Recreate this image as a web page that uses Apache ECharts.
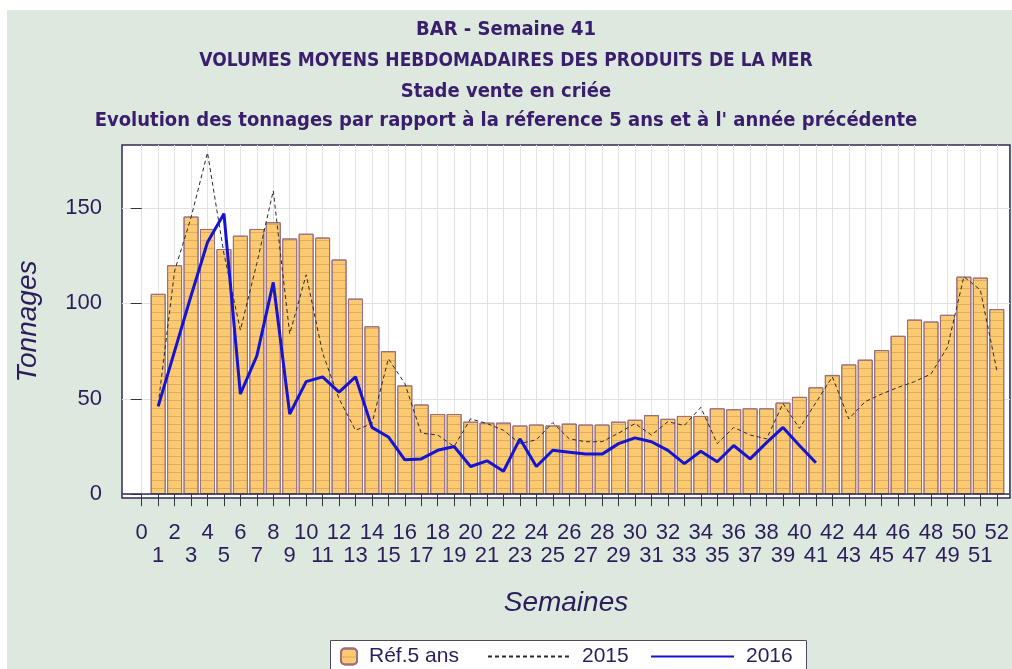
<!DOCTYPE html>
<html lang="fr">
<head>
    <meta charset="UTF-8">
    <title>BAR - Semaine 41</title>
    <script src="https://cdn.jsdelivr.net/npm/echarts@6.0.0/dist/echarts.min.js"></script>
    <style>
        body {
            margin: 0;
            background: #ffffff;
        }
        .backdrop {
            position: absolute;
            left: 7px;
            top: 10px;
            right: 0;
            bottom: 0;
            background-color: #dde9de;
        }
        #chart {
            position: absolute;
            left: 0;
            top: 0;
            width: 1012px;
            height: 669px;
        }
    </style>
</head>
<body>
    <div class="backdrop"></div>
    <div id="chart"></div>
    <script type="text/javascript">
        const weeks = [
            1, 2, 3, 4, 5, 6, 7, 8, 9, 10, 11, 12, 13, 14, 15, 16, 17, 18, 19, 20, 21, 22, 23, 24, 25, 26,
            27, 28, 29, 30, 31, 32, 33, 34, 35, 36, 37, 38, 39, 40, 41, 42, 43, 44, 45, 46, 47, 48, 49, 50, 51, 52
        ];
        const ref5 = [
            105, 120, 145.5, 139, 128.5, 135.5, 139, 142.5, 134, 136.5, 134.5, 123, 102.5, 88, 75, 57, 47, 42, 42, 38,
            37.5, 37.5, 36, 36.5, 36, 37, 36.5, 36.5, 38, 39, 41.5, 39.5, 41, 41, 45, 44.5, 45, 45, 48, 51,
            56, 62.5, 68, 70.5, 75.5, 83, 91.5, 90.5, 94, 114, 113.5, 97
        ];
        const y2015 = [
            47, 117, 145, 179, 126, 86, 121, 159, 84, 115, 74, 50, 33.5, 37, 71, 58, 32, 31, 25, 39.5,
            37, 33.5, 26.5, 28.5, 37.5, 29, 27.5, 27.5, 32, 37, 31, 38, 36, 45.5, 26.5, 35, 31, 29, 47.5, 34.5,
            48, 61.5, 39.5, 48.5, 52.5, 56, 59, 63, 77, 114, 107, 65
        ];
        const y2016 = [
            46, 75, 104, 132, 147, 52.5, 72.5, 111, 42, 59, 61.5, 53.5, 61.5, 35, 30, 18, 18.5, 23, 25, 14.5,
            17.5, 12, 29, 14.5, 23, 22, 21, 21, 26.5, 29.5, 27.5, 23, 16, 22.5, 17, 25.5, 18.5, 27, 35, 25.5, 16.5
        ];
        const xTicks = [0].concat(weeks);
        const xEven = xTicks.filter((v) => v % 2 === 0);
        const xOdd = xTicks.filter((v) => v % 2 === 1);
        const yTicks = [0, 50, 100, 150];
        const titles = [
            'BAR - Semaine 41',
            'VOLUMES MOYENS HEBDOMADAIRES DES PRODUITS DE LA MER',
            'Stade vente en criée',
            "Evolution des tonnages par rapport à la réference 5 ans et à l' année précédente"
        ];

        const ink = '#2b1d5c';
        const labelFont = "'Liberation Sans', Arial, sans-serif";
        const titleFont = "'Liberation Sans Narrow', 'DejaVu Sans Condensed', 'Liberation Sans', sans-serif";

        const chart = echarts.init(document.getElementById('chart'), null, { renderer: 'canvas' });

        // title lines are stacked by hand, one title per line
        const titleTops = [20, 52, 82, 111];
        const titleSizes = [20, 19, 20, 20];

        const tickLabel = {
            fontFamily: labelFont,
            fontSize: 22,
            color: ink,
            showMinLabel: true,
            showMaxLabel: true,
            hideOverlap: false
        };

        chart.setOption({
            animation: false,
            backgroundColor: 'transparent',
            title: titles.map((t, i) => ({
                text: t,
                left: 'center',
                top: titleTops[i],
                padding: 0,
                textStyle: {
                    fontFamily: titleFont,
                    fontWeight: 'bold',
                    fontSize: titleSizes[i],
                    color: '#3a1d6c'
                }
            })),
            graphic: [
                {
                    type: 'rect',
                    left: 330,
                    top: 640,
                    shape: { width: 476, height: 40 },
                    style: { fill: '#ffffff', stroke: '#4a4a5a', lineWidth: 1 },
                    z: 0
                }
            ],
            legend: [
                {
                    left: 340,
                    top: 646,
                    itemWidth: 16,
                    itemHeight: 16,
                    padding: 0,
                    data: ['Réf.5 ans'],
                    textStyle: { fontFamily: labelFont, fontSize: 21, color: ink, padding: [0, 0, 0, 7] }
                },
                {
                    left: 487,
                    top: 646,
                    itemWidth: 83,
                    itemHeight: 16,
                    padding: 0,
                    data: ['2015'],
                    itemStyle: { opacity: 0 },
                    textStyle: { fontFamily: labelFont, fontSize: 21, color: ink, padding: [0, 0, 0, 6] }
                },
                {
                    left: 650,
                    top: 646,
                    itemWidth: 83,
                    itemHeight: 16,
                    padding: 0,
                    data: ['2016'],
                    itemStyle: { opacity: 0 },
                    textStyle: { fontFamily: labelFont, fontSize: 21, color: ink, padding: [0, 0, 0, 7] }
                }
            ],
            grid: {
                left: 122,
                top: 145,
                right: 2,
                bottom: 171,
                show: true,
                backgroundColor: '#ffffff',
                borderColor: '#2f2a55',
                borderWidth: 1.5
            },
            xAxis: [
                {
                    type: 'value',
                    position: 'bottom',
                    min: -1.2,
                    max: 52.8,
                    name: 'Semaines',
                    nameLocation: 'middle',
                    nameGap: 91,
                    nameTextStyle: {
                        fontFamily: labelFont,
                        fontStyle: 'italic',
                        fontSize: 28,
                        color: ink
                    },
                    axisLine: { show: false },
                    axisTick: {
                        show: true,
                        length: 12,
                        customValues: xTicks,
                        lineStyle: { color: '#333344', width: 1 }
                    },
                    axisLabel: Object.assign({ customValues: xEven, margin: 24 }, tickLabel),
                    splitLine: {
                        show: true,
                        lineStyle: { color: '#e2e2e6', width: 1 }
                    }
                },
                {
                    // odd weeks sit on a second row under the even ones
                    type: 'value',
                    position: 'bottom',
                    offset: 0,
                    min: -1.2,
                    max: 52.8,
                    axisLine: { show: false },
                    axisTick: { show: false },
                    axisLabel: Object.assign({ customValues: xOdd, margin: 47 }, tickLabel),
                    splitLine: { show: false }
                }
            ],
            yAxis: {
                type: 'value',
                min: -2,
                max: 183,
                name: 'Tonnages',
                nameLocation: 'middle',
                nameGap: 80,
                nameRotate: 90,
                nameTextStyle: {
                    fontFamily: labelFont,
                    fontStyle: 'italic',
                    fontSize: 28,
                    color: ink
                },
                axisLine: { show: false },
                axisTick: {
                    show: true,
                    length: 11,
                    customValues: yTicks,
                    lineStyle: { color: '#333344', width: 1 }
                },
                axisLabel: {
                    customValues: yTicks,
                    margin: 20,
                    fontFamily: labelFont,
                    fontSize: 22,
                    color: ink
                },
                splitLine: {
                    show: true,
                    lineStyle: { color: '#e2e2e6', width: 1 }
                }
            },
            series: [
                {
                    name: 'Réf.5 ans',
                    type: 'bar',
                    barWidth: 15,
                    data: weeks.map((w, i) => [w, ref5[i]]),
                    itemStyle: {
                        color: '#fbc970',
                        borderColor: '#9c7080',
                        borderWidth: 1,
                        decal: {
                            symbol: 'rect',
                            symbolSize: 1,
                            color: 'rgba(150, 95, 70, 0.28)',
                            dashArrayX: [8, 0],
                            dashArrayY: [1, 7]
                        }
                    },
                    markLine: {
                        silent: true,
                        symbol: 'none',
                        label: { show: false },
                        lineStyle: { color: '#2f2a55', width: 1.5, type: 'solid' },
                        data: [{ yAxis: 0 }]
                    },
                    z: 2
                },
                {
                    name: '2015',
                    type: 'line',
                    symbol: 'none',
                    data: weeks.map((w, i) => [w, y2015[i]]),
                    lineStyle: { color: '#2a2a2a', width: 1, type: [4, 3] },
                    itemStyle: { color: '#2a2a2a' },
                    z: 3
                },
                {
                    name: '2016',
                    type: 'line',
                    symbol: 'none',
                    data: y2016.map((v, i) => [weeks[i], v]),
                    lineStyle: { color: '#1414d2', width: 3 },
                    itemStyle: { color: '#1414d2' },
                    z: 4
                }
            ]
        });
    </script>
</body>
</html>
